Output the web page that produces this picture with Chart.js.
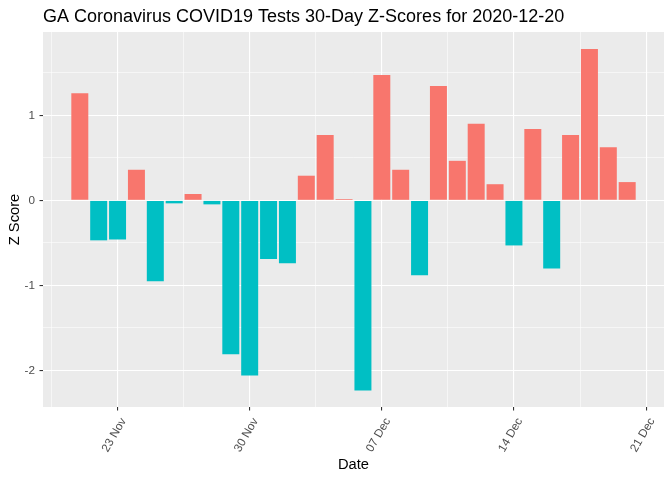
<!DOCTYPE html>
<html>
<head>
<meta charset="utf-8">
<script src="https://cdn.jsdelivr.net/npm/chart.js@4"></script>
<style>
    html, body { margin: 0; padding: 0; background: #ffffff; }
    #wrap { width: 672px; height: 480px; }
</style>
</head>
<body>
<div id="wrap"><canvas id="chart" width="672" height="480"></canvas></div>
<script>
// 30일 날짜 (x 값은 이 배열의 인덱스 = 2020-11-21 부터의 일수)
const dates = [
    '2020-11-21', '2020-11-22', '2020-11-23', '2020-11-24', '2020-11-25',
    '2020-11-26', '2020-11-27', '2020-11-28', '2020-11-29', '2020-11-30',
    '2020-12-01', '2020-12-02', '2020-12-03', '2020-12-04', '2020-12-05',
    '2020-12-06', '2020-12-07', '2020-12-08', '2020-12-09', '2020-12-10',
    '2020-12-11', '2020-12-12', '2020-12-13', '2020-12-14', '2020-12-15',
    '2020-12-16', '2020-12-17', '2020-12-18', '2020-12-19', '2020-12-20'
];

// Z 점수
const zScores = [
    1.26, -0.47, -0.46, 0.36, -0.95,
    -0.035, 0.075, -0.047, -1.81, -2.06,
    -0.69, -0.74, 0.29, 0.77, 0.015,
    -2.235, 1.475, 0.36, -0.88, 1.345,
    0.465, 0.90, 0.19, -0.53, 0.84,
    -0.80, 0.77, 1.78, 0.625, 0.215
];

// 축 눈금
const xTickDays = [2, 9, 16, 23, 30];
const xTickLabels = ['23 Nov', '30 Nov', '07 Dec', '14 Dec', '21 Dec'];
const xMinorDays = [-1.5, 5.5, 12.5, 19.5, 26.5];
const yTickValues = [-2, -1, 0, 1];
const yMinorValues = [-1.5, -0.5, 0.5, 1.5];

const POS_COLOR = '#F8766D';
const NEG_COLOR = '#00BFC4';
const FONT = '"Liberation Sans", Arial, sans-serif';

// 패널 배경 (ggplot 회색)
const panelBackground = {
    id: 'panelBackground',
    beforeDraw(chart) {
        const { ctx, chartArea } = chart;
        ctx.save();
        ctx.fillStyle = '#EBEBEB';
        ctx.fillRect(chartArea.left, chartArea.top, chartArea.right - chartArea.left, chartArea.bottom - chartArea.top);
        ctx.restore();
    }
};

// 제목 (패널 왼쪽 정렬)
const plotTitle = {
    id: 'plotTitle',
    afterDraw(chart) {
        const { ctx, chartArea } = chart;
        ctx.save();
        ctx.fillStyle = '#000000';
        ctx.font = '18px ' + FONT;
        ctx.textAlign = 'left';
        ctx.textBaseline = 'alphabetic';
        ctx.fillText('GA Coronavirus COVID19 Tests 30-Day Z-Scores for 2020-12-20', chartArea.left, 22);
        ctx.restore();
    }
};

function isMajorX(value) {
    return xTickDays.indexOf(value) !== -1;
}

function isMajorY(value) {
    return yTickValues.indexOf(value) !== -1;
}

const ctx = document.getElementById('chart');

new Chart(ctx, {
    type: 'bar',
    data: {
        datasets: [{
            data: zScores.map((v, i) => ({ x: i, y: v })),
            backgroundColor: zScores.map(v => v >= 0 ? POS_COLOR : NEG_COLOR),
            borderWidth: 0,
            barPercentage: 0.9,
            categoryPercentage: 1.0
        }]
    },
    options: {
        responsive: false,
        animation: false,
        layout: {
            padding: { top: 32, right: 8, left: 0, bottom: 0 }
        },
        plugins: {
            legend: { display: false },
            tooltip: { enabled: false },
            title: { display: false }
        },
        scales: {
            x: {
                type: 'linear',
                offset: false,
                min: -1.95,
                max: 30.95,
                border: { display: false },
                grid: {
                    offset: false,
                    color: '#FFFFFF',
                    lineWidth: c => isMajorX(c.tick.value) ? 1.1 : 0.55,
                    drawTicks: true,
                    tickLength: 3.5,
                    tickWidth: 1.1,
                    tickColor: c => isMajorX(c.tick.value) ? '#333333' : 'rgba(0,0,0,0)'
                },
                afterBuildTicks: scale => {
                    scale.ticks = xTickDays.concat(xMinorDays)
                        .sort((a, b) => a - b)
                        .map(v => ({ value: v }));
                },
                afterFit: scale => { scale.height = 73; },
                ticks: {
                    autoSkip: false,
                    minRotation: 60,
                    maxRotation: 60,
                    padding: 5,
                    labelOffset: 6,
                    color: '#4D4D4D',
                    font: { family: FONT, size: 11.7 },
                    callback: value => {
                        const i = xTickDays.indexOf(value);
                        return i === -1 ? '' : xTickLabels[i];
                    }
                },
                title: {
                    display: true,
                    text: 'Date',
                    color: '#000000',
                    font: { family: FONT, size: 14.7 },
                    padding: { top: 0, bottom: 6 }
                }
            },
            y: {
                type: 'linear',
                min: -2.43,
                max: 1.98,
                border: { display: false },
                grid: {
                    color: '#FFFFFF',
                    lineWidth: c => isMajorY(c.tick.value) ? 1.1 : 0.55,
                    drawTicks: true,
                    tickLength: 3.5,
                    tickWidth: 1.1,
                    tickColor: c => isMajorY(c.tick.value) ? '#333333' : 'rgba(0,0,0,0)'
                },
                afterBuildTicks: scale => {
                    scale.ticks = yTickValues.concat(yMinorValues)
                        .sort((a, b) => a - b)
                        .map(v => ({ value: v }));
                },
                afterFit: scale => { scale.width = 43; },
                ticks: {
                    padding: 4.5,
                    color: '#4D4D4D',
                    font: { family: FONT, size: 11.7 },
                    callback: value => isMajorY(value) ? String(value) : ''
                },
                title: {
                    display: true,
                    text: 'Z Score',
                    color: '#000000',
                    font: { family: FONT, size: 14.7 },
                    padding: { top: 6, bottom: 0 }
                }
            }
        }
    },
    plugins: [panelBackground, plotTitle]
});
</script>
</body>
</html>
